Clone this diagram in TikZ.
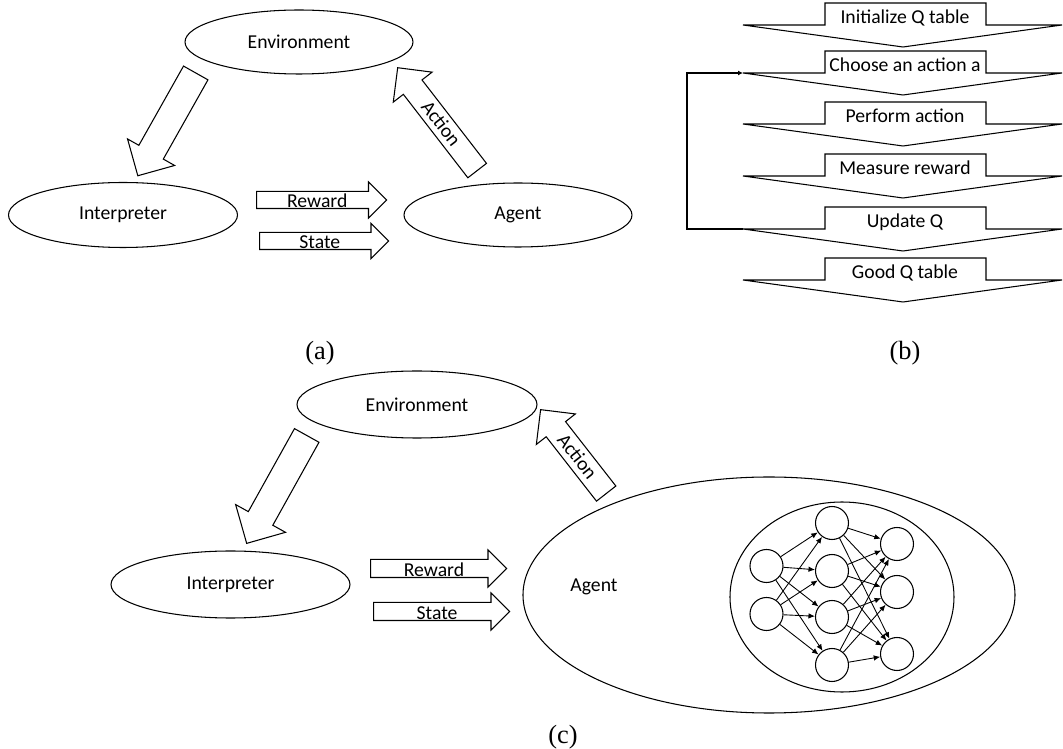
\documentclass[tikz,border=0pt]{standalone}
\usepackage{fontspec}
\setmainfont{Carlito}
\newfontfamily\capfont{Liberation Serif}
\usetikzlibrary{shapes.geometric,shapes.arrows,arrows.meta}

\tikzset{
	every node/.style={font=\fontsize{11.2}{13}\selectfont},
	oval/.style={draw, ellipse, inner sep=0pt, line width=0.6pt},
	blockarrow/.style={draw, single arrow, line width=0.6pt, inner ysep=0pt, inner xsep=1pt, text depth=0pt, anchor=tail},
	neuron/.style={draw, circle, minimum size=6.6mm, inner sep=0pt, line width=0.6pt},
	nnarrow/.style={-{Latex[length=1.3mm,width=1.1mm]}, line width=0.5pt},
	caption/.style={font=\capfont\fontsize{15}{17}\selectfont},
	steplabel/.style={anchor=base}
}

\begin{document}
\begin{tikzpicture}[x=0.2mm, y=-0.2mm]
			%%%%% START %%%%%
			\useasboundingbox (0,0) rectangle (1063,749);
			
			% (a)
			\node[oval, minimum width=45.6mm, minimum height=12.8mm] (envA) at (299,42) {Environment};
			\node[oval, minimum width=45.8mm, minimum height=13mm] (intA) at (123,215) {Interpreter};
			\node[oval, minimum width=45.6mm, minimum height=12.8mm] (agtA) at (518,215) {Agent};
			
			\node[blockarrow, rotate=240.6, minimum height=23.6mm, text height=5.4mm, single arrow head extend=2.6mm] (downA) at (196,72.5) {};
			\node[blockarrow, minimum height=26mm, text height=3.2mm, single arrow head extend=1.9mm] (rewA) at (256,200) {Reward};
			\node[blockarrow, minimum height=25.8mm, text height=3.2mm, single arrow head extend=1.8mm] (staA) at (259,241) {State};
			\node[blockarrow, shape border rotate=180, rotate=-52.3, minimum height=26mm, text height=3.5mm, text depth=1mm, single arrow head extend=2.55mm] (actA) at (477.5,171) {Action};
			
			\node[caption] (capA) at (320,353) {(a)};
			
			% (b)
			\foreach \t/\txt [count=\k] in {3/Initialize Q table, 51/Choose an action a, 102/Perform action, 154/Measure reward, 207/Update Q, 258/Good Q table}{
				\draw[line width=0.6pt] (743,\t+22) -- (825,\t+22) -- (825,\t) -- (986,\t) -- (986,\t+22) -- (1062,\t+22) -- (903,\t+44) -- cycle;
				\coordinate (l\k) at (743,\t+22);
				\node[steplabel] (s\k) at (905,\t+21) {\txt};
			}
			\draw[line width=0.9pt, -{Latex[length=1mm,width=1mm]}] (l5) -- ++(-56,0) |- (l2);
			
			\node[caption] (capB) at (905,353) {(b)};
			
			% (c)
			\node[oval, minimum width=48mm, minimum height=13.4mm] (envC) at (417,404.5) {Environment};
			\node[oval, minimum width=47.8mm, minimum height=13.4mm] (intC) at (230.5,584.5) {Interpreter};
			\node[oval, minimum width=98.4mm, minimum height=47.2mm] (agtC) at (769,595) {};
			\node (agtlabel) at (594,587) {Agent};
			\node[oval, minimum width=44.8mm, minimum height=38mm] (netC) at (842,597) {};
			
			\node[blockarrow, rotate=240.9, minimum height=24.7mm, text height=5.4mm, single arrow head extend=2.9mm] (downC) at (307,435) {};
			\node[blockarrow, minimum height=27.2mm, text height=3.4mm, single arrow head extend=1.9mm] (rewC) at (370,568.5) {Reward};
			\node[blockarrow, minimum height=27.2mm, text height=3.4mm, single arrow head extend=1.9mm] (staC) at (373,611.5) {State};
			\node[blockarrow, shape border rotate=180, rotate=-52, minimum height=21.3mm, text height=3.6mm, text depth=1.1mm, single arrow head extend=2.5mm] (actC) at (606.5,494) {Action};
			
			\node[neuron] (in1) at (766.5,566) {};
			\node[neuron] (in2) at (766.5,614) {};
			\node[neuron] (hid1) at (832,523) {};
			\node[neuron] (hid2) at (832,571) {};
			\node[neuron] (hid3) at (832,617) {};
			\node[neuron] (hid4) at (832,665) {};
			\node[neuron] (out1) at (897,544) {};
			\node[neuron] (out2) at (897,592) {};
			\node[neuron] (out3) at (897,654) {};
			
			\foreach \i in {1,2}
				\foreach \j in {1,...,4}
					\draw[nnarrow] (in\i) -- (hid\j);
			\foreach \j in {1,...,4}
				\foreach \m in {1,2,3}
					\draw[nnarrow] (hid\j) -- (out\m);
			
			\node[caption] (capC) at (563,737) {(c)};
			%%%%% END %%%%%
\end{tikzpicture}
\end{document}
